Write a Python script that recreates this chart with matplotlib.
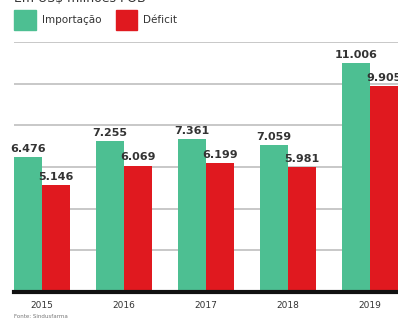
import numpy as np
import matplotlib
matplotlib.use("Agg")
import matplotlib.pyplot as plt
from matplotlib.patches import Rectangle

# Data (US$ milhões FOB)
years = ["2015", "2016", "2017", "2018", "2019"]
importacao = [6476, 7255, 7361, 7059, 11006]
deficit = [5146, 6069, 6199, 5981, 9905]
imp_labels = ["6.476", "7.255", "7.361", "7.059", "11.006"]
def_labels = ["5.146", "6.069", "6.199", "5.981", "9.905"]

green = "#4dbf92"
red = "#e0191f"
text_col = "#333333"

fig = plt.figure(figsize=(3.98, 3.2), dpi=100)
ax = fig.add_axes([14 / 398, 28 / 320, 384 / 398, 250 / 320])

x = np.arange(len(years))
w = 0.34
ax.bar(x - w / 2, importacao, w, color=green, zorder=2)
ax.bar(x + w / 2, deficit, w, color=red, zorder=2)

for xi, v, lab in zip(x, importacao, imp_labels):
    ax.text(xi - w / 2, v + 150, lab, ha="center", va="bottom",
            fontsize=8, fontweight="bold", color=text_col, clip_on=False)
for xi, v, lab in zip(x, deficit, def_labels):
    ax.text(xi + w / 2, v + 150, lab, ha="center", va="bottom",
            fontsize=8, fontweight="bold", color=text_col, clip_on=False)

ax.set_xlim(-w, 4 + w)
ax.set_ylim(0, 12000)
ax.set_yticks(np.arange(2000, 12001, 2000))
ax.yaxis.grid(True, color="#c4c4c4", linewidth=1.3, zorder=0)
ax.tick_params(axis="y", left=False, labelleft=False)
ax.tick_params(axis="x", bottom=False, pad=3)
ax.set_xticks(x)
ax.set_xticklabels(years, fontsize=6.5, color=text_col)
for s in ["top", "right", "left"]:
    ax.spines[s].set_visible(False)
ax.spines["bottom"].set_linewidth(3)
ax.spines["bottom"].set_color("#111111")
ax.spines["bottom"].set_zorder(3)

# title (cropped at top in the original)
fig.text(14 / 398, 1.005, "Em US$ milhões FOB", ha="left", va="center",
         fontsize=9, color=text_col)

# legend
fig.patches.append(Rectangle((14 / 398, 1 - 30 / 320), 22 / 398, 20 / 320,
                             transform=fig.transFigure, color=green))
fig.text(42 / 398, 1 - 20 / 320, "Importação", ha="left", va="center",
         fontsize=7.5, color=text_col)
fig.patches.append(Rectangle((116 / 398, 1 - 30 / 320), 21 / 398, 20 / 320,
                             transform=fig.transFigure, color=red))
fig.text(143 / 398, 1 - 20 / 320, "Déficit", ha="left", va="center",
         fontsize=7.5, color=text_col)

fig.text(14 / 398, 1 - 316 / 320, "Fonte: Sindusfarma", ha="left", va="center",
         fontsize=4, color="#777777")

fig.savefig("out.png", dpi=100)
